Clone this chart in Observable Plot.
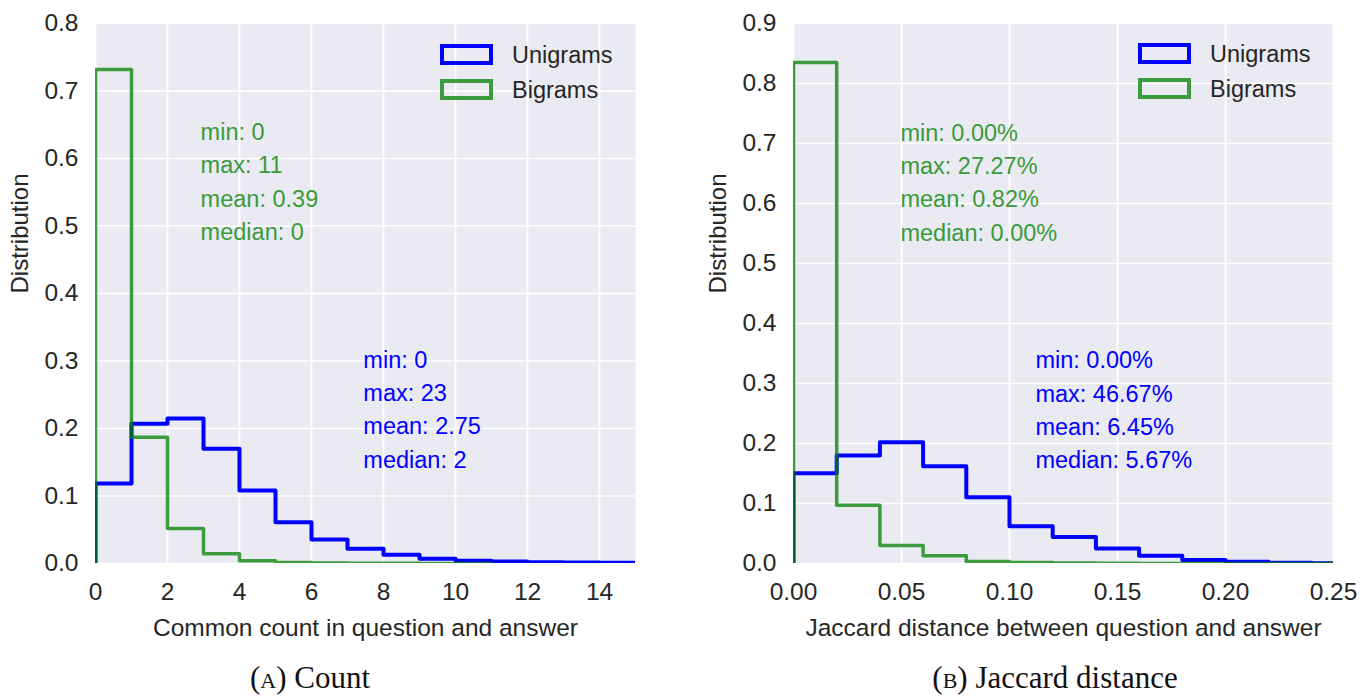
<!DOCTYPE html>
<html><head><meta charset="utf-8">
<script src="https://cdn.jsdelivr.net/npm/d3@7"></script>
<script src="https://cdn.jsdelivr.net/npm/@observablehq/plot@0.6"></script>
<style>
body{margin:0;background:#fff;}
#root{position:relative;width:1368px;height:697px;font-family:"Liberation Sans",Arial,sans-serif;overflow:hidden;}
.panel{position:absolute;top:0;}
.lg{position:absolute;font-size:23.5px;line-height:23px;color:#262626;white-space:nowrap;}
.sw{position:absolute;box-sizing:border-box;width:53px;height:21px;border:4px solid;}
.cap{position:absolute;top:664px;font-family:"Liberation Serif",serif;font-size:31px;line-height:28px;color:#111;transform:translateX(-50%);white-space:nowrap;}
.sc{font-variant:small-caps;}
</style></head><body><div id="root"></div>
<script>
// ---- data ----
const seriesNames = ["Unigrams", "Bigrams"];
const seriesColors = ["blue", "green"];

// (A) Count histogram: bin edges and normalized bin heights
const countEdges = [0,1,2,3,4,5,6,7,8,9,10,11,12,13,14,15,16,17,18,19,20,21,22,23];
const countUnigrams = [0.1185,0.207,0.215,0.170,0.108,0.061,0.0355,0.022,0.013,0.007,0.004,0.003,0.002,0.0015,0.001,0.0008,0.0005,0.0003,0.0002,0.0001,0.0001,0.0001,0.0001];
const countBigrams = [0.732,0.187,0.052,0.0145,0.004,0.0015,0.0007,0.0004,0.0002,0.0001,0.0001];
const countXTicks = [0,2,4,6,8,10,12,14];
const countYTicks = [0,0.1,0.2,0.3,0.4,0.5,0.6,0.7,0.8];
const countUnigramStats = ["min: 0","max: 23","mean: 2.75","median: 2"];
const countBigramStats = ["min: 0","max: 11","mean: 0.39","median: 0"];

// (B) Jaccard distance histogram
const jaccardEdges = [0,0.02,0.04,0.06,0.08,0.10,0.12,0.14,0.16,0.18,0.20,0.22,0.24,0.26,0.28,0.30,0.32,0.34,0.36,0.38,0.40,0.42,0.44,0.46,0.48];
const jaccardUnigrams = [0.1505,0.180,0.202,0.162,0.1105,0.062,0.044,0.025,0.013,0.006,0.003,0.0012,0.0006,0.0003,0.0002,0.0001,0.0001,0.0001,0.0001,0.0001,0.0001,0.0001,0.0001,0.0001];
const jaccardBigrams = [0.835,0.097,0.030,0.013,0.0035,0.0015,0.0008,0.0004,0.0002,0.0001,0.0001,0.0001,0.0001,0.0001];
const jaccardXTicks = [0,0.05,0.10,0.15,0.20,0.25];
const jaccardYTicks = [0,0.1,0.2,0.3,0.4,0.5,0.6,0.7,0.8,0.9];
const jaccardUnigramStats = ["min: 0.00%","max: 46.67%","mean: 6.45%","median: 5.67%"];
const jaccardBigramStats = ["min: 0.00%","max: 27.27%","mean: 0.82%","median: 0.00%"];

const xLabels = ["Common count in question and answer", "Jaccard distance between question and answer"];
const yLabel = "Distribution";
const captions = [["(a)", " Count"], ["(b)", " Jaccard distance"]];

// ---- helpers ----
function steps(edges, values) {
  const pts = [{x: edges[0], y: 0}];
  values.forEach((v, i) => pts.push({x: edges[i], y: v}));
  pts.push({x: edges[values.length], y: 0});
  return pts;
}

const FONT = "Liberation Sans, Arial, sans-serif";
const TXT = "#262626";

function panel(o) {
  return Plot.plot({
    width: o.width, height: 645,
    marginLeft: 95, marginRight: o.marginRight, marginTop: 23, marginBottom: 82,
    x: {domain: o.xDomain},
    y: {domain: o.yDomain},
    style: {fontFamily: FONT, fontSize: "24px", color: TXT, background: "transparent", overflow: "visible"},
    marks: [
      Plot.frame({fill: "#eaeaf2", stroke: null}),
      Plot.gridX(o.xTicks, {stroke: "white", strokeOpacity: 1, strokeWidth: 1.7}),
      Plot.gridY(o.yTicks, {stroke: "white", strokeOpacity: 1, strokeWidth: 1.7}),
      Plot.axisX(o.xTicks, {tickSize: 0, tickPadding: 19, tickFormat: o.xFmt, label: null, fontSize: 24.5, fill: TXT}),
      Plot.axisY(o.yTicks, {tickSize: 0, tickPadding: 17, tickFormat: ".1f", label: null, fontSize: 24.5, fill: TXT}),
      Plot.text([o.xLabel], {frameAnchor: "bottom", dy: 72, fontSize: 24.5, fill: TXT}),
      Plot.text([yLabel], {frameAnchor: "left", rotate: -90, dx: -75, fontSize: 24, fill: TXT}),
      Plot.line(steps(o.edges, o.uni), {x: "x", y: "y", curve: "step-after", stroke: seriesColors[0], strokeWidth: 4, clip: true}),
      Plot.line(steps(o.edges, o.bi), {x: "x", y: "y", curve: "step-after", stroke: seriesColors[1], strokeOpacity: 0.75, strokeWidth: 3.5, clip: true}),
      Plot.text([o.biStats.join("\n")], {x: o.biPos[0], y: o.biPos[1], textAnchor: "start", lineAnchor: "middle", lineHeight: 1.42, fontSize: 23.5, fill: "#3a9a3a"}),
      Plot.text([o.uniStats.join("\n")], {x: o.uniPos[0], y: o.uniPos[1], textAnchor: "start", lineAnchor: "middle", lineHeight: 1.42, fontSize: 23.5, fill: "blue"})
    ]
  });
}

const root = document.getElementById("root");

const left = panel({
  width: 685, marginRight: 50,
  xDomain: [0, 15], yDomain: [0, 0.8],
  xTicks: countXTicks, yTicks: countYTicks, xFmt: d => String(d),
  xLabel: xLabels[0], edges: countEdges, uni: countUnigrams, bi: countBigrams,
  uniStats: countUnigramStats, biStats: countBigramStats,
  uniPos: [7.44, 0.232], biPos: [2.92, 0.569]
});
left.classList.add("panel"); left.style.left = "0px";
root.appendChild(left);

const right = panel({
  width: 665, marginRight: 30,
  xDomain: [0, 0.25], yDomain: [0, 0.9],
  xTicks: jaccardXTicks, yTicks: jaccardYTicks, xFmt: ".2f",
  xLabel: xLabels[1], edges: jaccardEdges, uni: jaccardUnigrams, bi: jaccardBigrams,
  uniStats: jaccardUnigramStats, biStats: jaccardBigramStats,
  uniPos: [0.112, 0.26], biPos: [0.0495, 0.639]
});
right.classList.add("panel"); right.style.left = "698px";
root.appendChild(right);

// legends (HTML overlay)
function legend(x0, y0) {
  seriesNames.forEach((name, i) => {
    const sw = document.createElement("div");
    sw.className = "sw";
    sw.style.left = x0 + "px";
    sw.style.top = (y0 + i * 35) + "px";
    sw.style.borderColor = seriesColors[i];
    if (i === 1) sw.style.opacity = 0.75;
    root.appendChild(sw);
    const t = document.createElement("div");
    t.className = "lg";
    t.textContent = name;
    t.style.left = (x0 + 72) + "px";
    t.style.top = (y0 - 0.5 + i * 35) + "px";
    root.appendChild(t);
  });
}
legend(440, 44);
legend(1138, 43);

// captions
[[310, captions[0]], [1055, captions[1]]].forEach(([cx, c]) => {
  const d = document.createElement("div");
  d.className = "cap";
  d.style.left = cx + "px";
  const s = document.createElement("span"); s.className = "sc"; s.textContent = c[0];
  d.appendChild(s);
  d.appendChild(document.createTextNode(c[1]));
  root.appendChild(d);
});
</script></body></html>
